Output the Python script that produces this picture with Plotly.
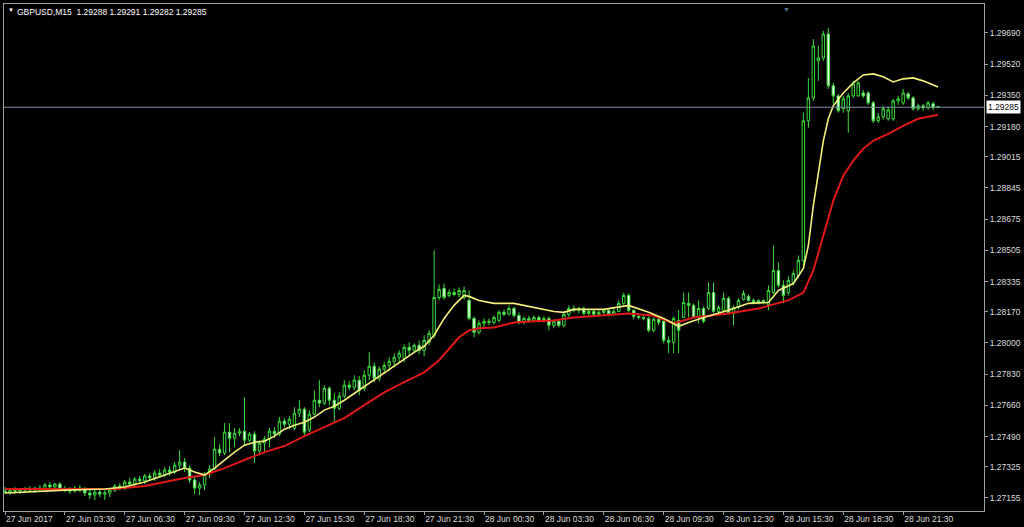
import pandas as pd
import plotly.graph_objects as go

# ---------------- data ----------------
symbol_title = "GBPUSD,M15  1.29288 1.29291 1.29282 1.29285"
start_time = "2017-06-27 00:30"
n_bars = 188
times = pd.date_range(start_time, periods=n_bars, freq="15min")

open_ = [1.27193,1.27187,1.27198,1.27193,1.27198,1.27204,1.27198,1.27209,1.27204,1.27226,
         1.27215,1.27231,1.27204,1.27198,1.27193,1.27209,1.27198,1.27182,1.27171,1.27187,
         1.27176,1.27182,1.27198,1.27220,1.27209,1.27242,1.27231,1.27258,1.27248,1.27275,
         1.27264,1.27291,1.27280,1.27307,1.27296,1.27334,1.27351,1.27318,1.27253,1.27209,
         1.27226,1.27286,1.27313,1.27421,1.27400,1.27514,1.27481,1.27508,1.27519,1.27470,
         1.27503,1.27411,1.27454,1.27476,1.27519,1.27503,1.27574,1.27557,1.27536,1.27617,
         1.27639,1.27525,1.27612,1.27688,1.27672,1.27753,1.27688,1.27644,1.27710,1.27770,
         1.27759,1.27797,1.27753,1.27824,1.27873,1.27808,1.27857,1.27878,1.27900,1.27922,
         1.27916,1.27976,1.27960,1.27987,1.27960,1.28004,1.28042,1.28248,1.28297,1.28259,
         1.28275,1.28264,1.28248,1.28232,1.28134,1.28058,1.28107,1.28118,1.28112,1.28123,
         1.28167,1.28156,1.28188,1.28150,1.28112,1.28134,1.28123,1.28139,1.28123,1.28134,
         1.28096,1.28118,1.28096,1.28156,1.28188,1.28178,1.28188,1.28161,1.28172,1.28156,
         1.28167,1.28178,1.28156,1.28172,1.28216,1.28259,1.28178,1.28145,1.28139,1.28134,
         1.28069,1.28129,1.28118,1.28014,1.28004,1.28123,1.28139,1.28216,1.28205,1.28139,
         1.28188,1.28188,1.28275,1.28172,1.28178,1.28243,1.28161,1.28194,1.28237,1.28254,
         1.28232,1.28221,1.28232,1.28210,1.28275,1.28395,1.28314,1.28275,1.28330,1.28368,
         1.28450,1.29211,1.29336,1.29538,1.29554,1.29684,1.29402,1.29347,1.29277,1.29266,
         1.29347,1.29347,1.29363,1.29363,1.29309,1.29211,1.29233,1.29222,1.29222,1.29320,
         1.29309,1.29358,1.29336,1.29277,1.29293,1.29282,1.29304,1.29288]
high = [1.27215,1.27209,1.27215,1.27209,1.27215,1.27220,1.27215,1.27226,1.27237,1.27242,
        1.27237,1.27242,1.27220,1.27215,1.27220,1.27226,1.27215,1.27204,1.27198,1.27204,
        1.27198,1.27209,1.27231,1.27237,1.27253,1.27264,1.27269,1.27275,1.27286,1.27291,
        1.27307,1.27313,1.27324,1.27329,1.27351,1.27416,1.27373,1.27334,1.27275,1.27242,
        1.27296,1.27334,1.27487,1.27448,1.27563,1.27563,1.27536,1.27536,1.27704,1.27514,
        1.27519,1.27470,1.27492,1.27536,1.27541,1.27596,1.27590,1.27601,1.27650,1.27688,
        1.27650,1.27634,1.27742,1.27797,1.27770,1.27764,1.27726,1.27731,1.27797,1.27791,
        1.27824,1.27819,1.27851,1.27949,1.27895,1.27873,1.27895,1.27922,1.27944,1.27960,
        1.27993,1.28004,1.27998,1.28014,1.28042,1.28069,1.28504,1.28319,1.28324,1.28292,
        1.28297,1.28303,1.28308,1.28286,1.28145,1.28123,1.28134,1.28134,1.28150,1.28178,
        1.28183,1.28205,1.28199,1.28167,1.28145,1.28150,1.28150,1.28150,1.28145,1.28145,
        1.28129,1.28123,1.28172,1.28205,1.28205,1.28199,1.28199,1.28183,1.28183,1.28178,
        1.28188,1.28183,1.28188,1.28232,1.28275,1.28270,1.28183,1.28161,1.28150,1.28145,
        1.28139,1.28139,1.28134,1.28036,1.28145,1.28178,1.28275,1.28275,1.28216,1.28232,
        1.28199,1.28330,1.28330,1.28205,1.28275,1.28254,1.28205,1.28243,1.28286,1.28264,
        1.28243,1.28237,1.28237,1.28314,1.28531,1.28439,1.28341,1.28363,1.28395,1.28477,
        1.29255,1.29445,1.29657,1.29619,1.29701,1.29717,1.29418,1.29358,1.29347,1.29363,
        1.29429,1.29429,1.29380,1.29374,1.29320,1.29255,1.29293,1.29288,1.29331,1.29347,
        1.29385,1.29369,1.29347,1.29304,1.29304,1.29320,1.29315,1.29291]
low = [1.27176,1.27171,1.27176,1.27176,1.27182,1.27187,1.27182,1.27193,1.27198,1.27204,
       1.27198,1.27193,1.27187,1.27176,1.27182,1.27187,1.27165,1.27149,1.27144,1.27160,
       1.27144,1.27160,1.27187,1.27198,1.27198,1.27220,1.27215,1.27231,1.27231,1.27253,
       1.27248,1.27264,1.27269,1.27275,1.27286,1.27307,1.27296,1.27237,1.27176,1.27171,
       1.27198,1.27264,1.27307,1.27383,1.27389,1.27405,1.27432,1.27492,1.27443,1.27459,
       1.27345,1.27389,1.27405,1.27432,1.27481,1.27492,1.27541,1.27530,1.27525,1.27596,
       1.27498,1.27514,1.27606,1.27650,1.27661,1.27661,1.27563,1.27634,1.27699,1.27742,
       1.27742,1.27715,1.27737,1.27797,1.27786,1.27791,1.27830,1.27846,1.27867,1.27895,
       1.27895,1.27933,1.27949,1.27938,1.27927,1.27987,1.28025,1.28232,1.28237,1.28248,
       1.28254,1.28248,1.28237,1.28123,1.28031,1.28047,1.28085,1.28096,1.28101,1.28112,
       1.28145,1.28150,1.28139,1.28101,1.28101,1.28112,1.28118,1.28112,1.28112,1.28069,
       1.28080,1.28085,1.28085,1.28139,1.28167,1.28161,1.28150,1.28150,1.28139,1.28145,
       1.28150,1.28145,1.28150,1.28167,1.28205,1.28167,1.28129,1.28129,1.28123,1.28058,
       1.28058,1.28096,1.27998,1.27944,1.27944,1.27944,1.28134,1.28139,1.28134,1.28107,
       1.28107,1.28178,1.28161,1.28156,1.28167,1.28156,1.28096,1.28183,1.28232,1.28226,
       1.28210,1.28210,1.28210,1.28178,1.28265,1.28303,1.28216,1.28259,1.28314,1.28352,
       1.28422,1.29173,1.29320,1.29429,1.29538,1.29385,1.29304,1.29255,1.29255,1.29146,
       1.29336,1.29342,1.29336,1.29298,1.29200,1.29200,1.29217,1.29211,1.29211,1.29298,
       1.29298,1.29325,1.29266,1.29266,1.29266,1.29271,1.29271,1.29282]
close = [1.27187,1.27198,1.27193,1.27198,1.27204,1.27198,1.27209,1.27204,1.27226,1.27215,
         1.27231,1.27204,1.27198,1.27193,1.27209,1.27198,1.27182,1.27171,1.27187,1.27176,
         1.27182,1.27198,1.27220,1.27209,1.27242,1.27231,1.27258,1.27248,1.27275,1.27264,
         1.27291,1.27280,1.27307,1.27296,1.27334,1.27351,1.27318,1.27253,1.27209,1.27226,
         1.27286,1.27313,1.27421,1.27400,1.27514,1.27481,1.27508,1.27519,1.27470,1.27503,
         1.27411,1.27454,1.27476,1.27519,1.27503,1.27574,1.27557,1.27585,1.27617,1.27639,
         1.27514,1.27612,1.27688,1.27672,1.27753,1.27688,1.27644,1.27710,1.27770,1.27759,
         1.27797,1.27742,1.27824,1.27873,1.27808,1.27857,1.27878,1.27900,1.27922,1.27944,
         1.27976,1.27960,1.27987,1.27960,1.28014,1.28053,1.28248,1.28292,1.28248,1.28275,
         1.28264,1.28286,1.28286,1.28134,1.28058,1.28107,1.28118,1.28112,1.28139,1.28167,
         1.28156,1.28188,1.28150,1.28112,1.28134,1.28123,1.28139,1.28123,1.28134,1.28096,
         1.28118,1.28096,1.28156,1.28188,1.28178,1.28188,1.28161,1.28172,1.28156,1.28167,
         1.28178,1.28156,1.28172,1.28216,1.28259,1.28178,1.28145,1.28139,1.28134,1.28069,
         1.28129,1.28112,1.28014,1.28004,1.28134,1.28069,1.28221,1.28205,1.28139,1.28188,
         1.28118,1.28275,1.28172,1.28194,1.28243,1.28161,1.28194,1.28232,1.28270,1.28232,
         1.28221,1.28232,1.28221,1.28286,1.28395,1.28314,1.28259,1.28341,1.28379,1.28450,
         1.29211,1.29336,1.29619,1.29554,1.29684,1.29402,1.29347,1.29266,1.29331,1.29347,
         1.29412,1.29418,1.29347,1.29309,1.29211,1.29233,1.29277,1.29271,1.29320,1.29331,
         1.29363,1.29336,1.29277,1.29293,1.29282,1.29309,1.29282,1.29285]

# fast moving average (yellow), sampled at bar numbers
ma_fast_bar = [0,12,20,24,28,32,36,38,40,42,44,46,48,50,52,54,56,58,60,62,64,66,68,70,72,74,76,78,
               80,82,84,86,88,90,92,93,95,98,102,106,110,112,114,120,125,129,132,135,137,140,145,
               149,153,155,158,160,161,162,163,164,165,166,168,170,172,174,176,178,180,182,184,187]
ma_fast_val = [1.27182,1.27198,1.27204,1.27215,1.27242,1.27280,1.27318,1.27296,1.27280,1.27318,
               1.27362,1.27405,1.27443,1.27459,1.27465,1.27492,1.27530,1.27552,1.27568,1.27596,
               1.27634,1.27655,1.27688,1.27726,1.27759,1.27797,1.27835,1.27873,1.27916,1.27949,
               1.27982,1.28042,1.28134,1.28205,1.28259,1.28254,1.28232,1.28216,1.28216,1.28194,
               1.28172,1.28167,1.28183,1.28183,1.28205,1.28167,1.28134,1.28091,1.28112,1.28139,
               1.28178,1.28216,1.28221,1.28286,1.28324,1.28406,1.28531,1.28749,1.28939,1.29102,
               1.29222,1.29293,1.29363,1.29418,1.29461,1.29467,1.29451,1.29423,1.29440,1.29445,
               1.29429,1.29396]
# slow moving average (red), sampled at bar numbers
ma_slow_bar = [0,12,22,28,32,36,40,44,48,52,56,60,64,68,72,76,80,84,87,89,91,93,95,98,102,106,
               110,114,119,125,130,134,138,145,151,157,160,162,164,166,168,170,172,174,177,180,183,187]
ma_slow_val = [1.27204,1.27204,1.27204,1.27220,1.27242,1.27264,1.27280,1.27318,1.27362,1.27405,
               1.27438,1.27492,1.27541,1.27590,1.27661,1.27731,1.27786,1.27840,1.27906,1.27971,
               1.28031,1.28069,1.28080,1.28085,1.28112,1.28118,1.28123,1.28139,1.28150,1.28161,
               1.28150,1.28107,1.28139,1.28161,1.28188,1.28232,1.28275,1.28395,1.28586,1.28776,
               1.28912,1.28994,1.29059,1.29102,1.29140,1.29184,1.29222,1.29244]

price_ticks = [1.27155, 1.27325, 1.27490, 1.27660, 1.27830, 1.28000, 1.28170, 1.28335,
               1.28505, 1.28675, 1.28845, 1.29015, 1.29180, 1.29350, 1.29520, 1.29690]
time_ticks = ["2017-06-27 00:30", "2017-06-27 03:30", "2017-06-27 06:30", "2017-06-27 09:30",
              "2017-06-27 12:30", "2017-06-27 15:30", "2017-06-27 18:30", "2017-06-27 21:30",
              "2017-06-28 00:30", "2017-06-28 03:30", "2017-06-28 06:30", "2017-06-28 09:30",
              "2017-06-28 12:30", "2017-06-28 15:30", "2017-06-28 18:30", "2017-06-28 21:30"]
time_tick_labels = ["27 Jun 2017", "27 Jun 03:30", "27 Jun 06:30", "27 Jun 09:30",
                    "27 Jun 12:30", "27 Jun 15:30", "27 Jun 18:30", "27 Jun 21:30",
                    "28 Jun 00:30", "28 Jun 03:30", "28 Jun 06:30", "28 Jun 09:30",
                    "28 Jun 12:30", "28 Jun 15:30", "28 Jun 18:30", "28 Jun 21:30"]
bid_price = 1.29285

# ---------------- styles ----------------
BG = "#000000"
FRAME = "#a0a0a0"
TXT = "#dcdcdc"
CANDLE = "#3cdc3c"
FONT = "Liberation Sans"

fig = go.Figure()
fig.add_trace(go.Candlestick(
    x=times, open=open_, high=high, low=low, close=close,
    increasing=dict(line=dict(color=CANDLE, width=1), fillcolor="#000000"),
    decreasing=dict(line=dict(color=CANDLE, width=1), fillcolor="#f0fff0"),
    whiskerwidth=0, hoverinfo="skip", showlegend=False,
))
fig.add_trace(go.Scatter(
    x=[times[i] for i in ma_slow_bar], y=ma_slow_val, mode="lines",
    line=dict(color="#e01818", width=2), hoverinfo="skip", showlegend=False,
))
fig.add_trace(go.Scatter(
    x=[times[i] for i in ma_fast_bar], y=ma_fast_val, mode="lines",
    line=dict(color="#f5f07a", width=1.6), hoverinfo="skip", showlegend=False,
))

# current bid line
fig.add_hline(y=bid_price, line=dict(color="#7d8da0", width=1))

bar = pd.Timedelta("15min")
x_range = [times[0] - 0.2 * bar, times[0] + 196.2 * bar]

fig.update_layout(
    width=1024, height=527,
    margin=dict(l=3, r=39, t=3, b=16),
    paper_bgcolor=BG, plot_bgcolor=BG,
    font=dict(family=FONT, size=9, color=TXT),
    showlegend=False,
    hovermode=False,
    xaxis=dict(
        type="date", range=x_range, rangeslider=dict(visible=False),
        showgrid=False, zeroline=False,
        showline=True, linecolor=FRAME, linewidth=1, mirror=True,
        tickvals=time_ticks, ticktext=time_tick_labels,
        ticks="outside", ticklen=3, tickcolor=FRAME,
        ticklabelposition="outside right",
        tickfont=dict(family=FONT, size=8.5, color=TXT),
    ),
    yaxis=dict(
        side="right", range=[1.27084, 1.29848],
        showgrid=False, zeroline=False,
        showline=True, linecolor=FRAME, linewidth=1, mirror=True,
        tickvals=price_ticks, ticktext=[f"{v:.5f}" for v in price_ticks],
        ticks="outside", ticklen=3, tickcolor=FRAME,
        tickfont=dict(family=FONT, size=8.5, color=TXT),
    ),
)

# title in upper-left corner
fig.add_annotation(xref="paper", yref="paper", x=0.002, y=0.998, xanchor="left", yanchor="top",
                   text="▼", showarrow=False, font=dict(family=FONT, size=6, color="#ffffff"))
fig.add_annotation(xref="paper", yref="paper", x=0.011, y=0.999, xanchor="left", yanchor="top",
                   text=symbol_title, showarrow=False,
                   font=dict(family=FONT, size=8.5, color="#ffffff"))
# chart shift marker at top
fig.add_annotation(xref="paper", yref="paper", x=0.798, y=1.0, xanchor="center", yanchor="top",
                   text="▼", showarrow=False, font=dict(family=FONT, size=7, color="#5b7394"))
# bid price label on the price scale
fig.add_annotation(xref="paper", yref="y", x=1.0, y=bid_price, xanchor="left", yanchor="middle",
                   xshift=2, text="1.29285", showarrow=False, bgcolor="#ffffff",
                   borderpad=1, font=dict(family=FONT, size=8.5, color="#000000"))

fig.write_html("out.html",
               config={"displayModeBar": False, "staticPlot": True},
               post_script="document.body.style.margin='0';document.body.style.background='#000';")
